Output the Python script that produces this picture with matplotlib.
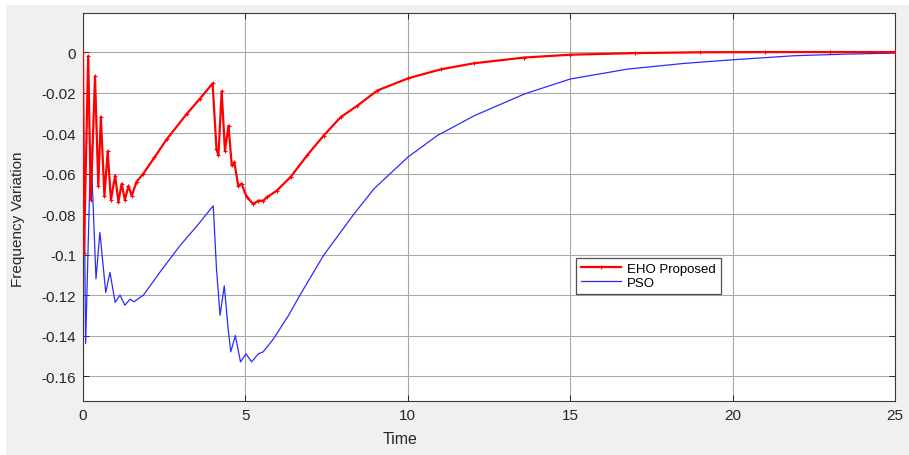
import numpy as np
import matplotlib
matplotlib.use("Agg")
import matplotlib.pyplot as plt
from matplotlib.patches import Rectangle

# values
eho_t = [0, 0.03, 0.16, 0.24, 0.37, 0.47, 0.55, 0.66, 0.76, 0.86, 0.99, 1.09,
         1.19, 1.29, 1.40, 1.50, 1.65, 1.86, 2.2, 2.58, 3.19, 3.6, 3.99, 4.11,
         4.17, 4.27, 4.37, 4.48, 4.58, 4.66, 4.78, 4.88, 5.04, 5.24, 5.40, 5.55,
         5.65, 5.96, 6.39, 6.9, 7.41, 7.93, 8.45, 9.06, 10, 11.02, 12.05, 13.59,
         15, 17, 19, 21, 23, 25]
eho_v = [0, -0.099, -0.002, -0.073, -0.012, -0.066, -0.032, -0.071, -0.049,
         -0.073, -0.061, -0.074, -0.065, -0.073, -0.066, -0.071, -0.064, -0.060,
         -0.052, -0.043, -0.0306, -0.023, -0.0155, -0.048, -0.051, -0.0194,
         -0.0487, -0.0364, -0.056, -0.0545, -0.066, -0.065, -0.0715, -0.075,
         -0.0734, -0.0734, -0.0718, -0.0685, -0.0617, -0.051, -0.0412, -0.0322,
         -0.0264, -0.019, -0.013, -0.0085, -0.0055, -0.0027, -0.0013, -0.0005,
         -0.0001, 0, 0, 0]

pso_t = [0, 0.08, 0.24, 0.40, 0.52, 0.70, 0.83, 0.99, 1.14, 1.29, 1.45, 1.57,
         1.86, 2.4, 2.99, 3.5, 4.01, 4.11, 4.22, 4.35, 4.47, 4.55, 4.69, 4.85,
         5.02, 5.19, 5.40, 5.55, 5.86, 6.33, 6.68, 7.41, 8.34, 8.96, 10, 10.91,
         12.05, 13.59, 15, 16.77, 18.5, 20, 21.9, 23.5, 25]
pso_v = [0, -0.144, -0.046, -0.112, -0.089, -0.1187, -0.1088, -0.1236, -0.120,
         -0.125, -0.122, -0.1233, -0.120, -0.108, -0.0955, -0.086, -0.0759,
         -0.107, -0.130, -0.1154, -0.137, -0.148, -0.140, -0.153, -0.149, -0.153,
         -0.149, -0.148, -0.1417, -0.130, -0.120, -0.1003, -0.080, -0.0675,
         -0.0519, -0.0412, -0.0314, -0.0207, -0.0133, -0.0084, -0.0056, -0.0038,
         -0.0018, -0.001, -0.0005]

xticks = [0, 5, 10, 15, 20, 25]
yticks = [0, -0.02, -0.04, -0.06, -0.08, -0.1, -0.12, -0.14, -0.16]
ytick_labels = ['0', '-0.02', '-0.04', '-0.06', '-0.08', '-0.1', '-0.12', '-0.14', '-0.16']

plt.rcParams['font.family'] = ['Liberation Sans', 'DejaVu Sans']

fig = plt.figure(figsize=(9.09, 4.56), dpi=100, facecolor='white')
fig.patches.append(Rectangle((6 / 909, 0), 1, 1 - 6 / 456, transform=fig.transFigure,
                             facecolor='#f0f0f0', edgecolor='none', zorder=-10))
ax = fig.add_axes([83 / 909, 1 - 402 / 456, 812 / 909, 388 / 456])
ax.set_facecolor('white')

ax.plot(eho_t, eho_v, color='#ff0000', lw=1.6, marker='+', ms=3, mew=0.8,
        label='EHO Proposed', zorder=3)
ax.plot(pso_t, pso_v, color='#2b2bff', lw=0.9, label='PSO', zorder=2)

ax.set_xlim(0, 25)
ax.set_ylim(-0.1723, 0.0193)
ax.set_xticks(xticks)
ax.set_yticks(yticks)
ax.set_yticklabels(ytick_labels)
ax.grid(True, color='#a8a8a8', lw=0.8)
ax.set_axisbelow(True)
ax.tick_params(direction='in', length=4, width=0.7, colors='#262626', labelsize=11,
               pad=5, top=True, right=True)
for s in ax.spines.values():
    s.set_color('#3a3a3a')
    s.set_linewidth(0.8)

ax.set_xlabel('Time', fontsize=11.5, color='#262626')
ax.xaxis.set_label_coords(0.39, -0.078)
ax.set_ylabel('Frequency Variation', fontsize=11, color='#262626')
ax.yaxis.set_label_coords(-0.072, 0.47)

leg = ax.legend(loc='lower left', bbox_to_anchor=(0.607, 0.276), fontsize=9.5,
                frameon=True, fancybox=False, handlelength=3.0, borderpad=0.4,
                labelspacing=0.1, handletextpad=0.5, borderaxespad=0)
leg.get_frame().set_edgecolor('#262626')
leg.get_frame().set_linewidth(0.9)

fig.savefig('out.png', dpi=100, facecolor=fig.get_facecolor())
